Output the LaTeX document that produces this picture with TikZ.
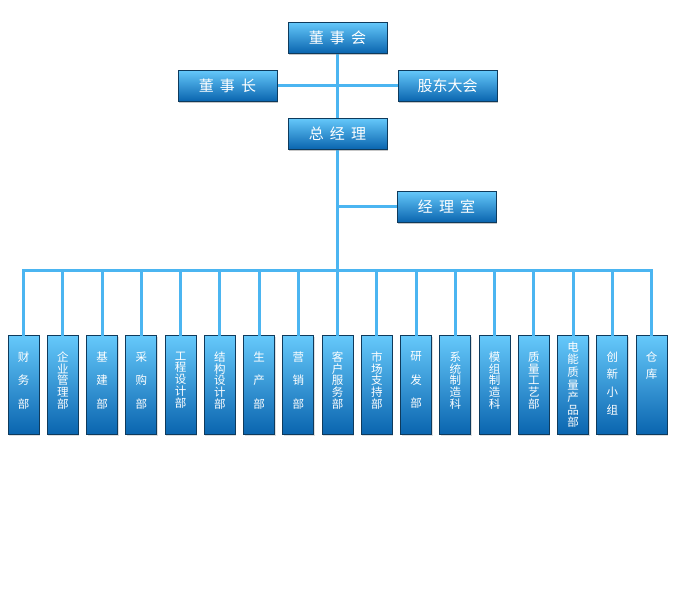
\documentclass[tikz,border=0pt]{standalone}
\usepackage{fontspec}
\newfontfamily\cjk{Noto Sans CJK SC}
\newfontfamily\cjkwide[WordSpace=1.8]{Noto Sans CJK SC}
\usetikzlibrary{shadows}

\definecolor{boxtop}{HTML}{66C9FB}
\definecolor{boxmid}{HTML}{3AA2E4}
\definecolor{boxbot}{HTML}{0A65AF}
\definecolor{boxline}{HTML}{0E3A5C}
\definecolor{linkblue}{HTML}{4BB5F1}

\begin{document}
\begin{tikzpicture}[
    x=1pt, y=-1pt, % 以像素为单位, y向下
    box/.style={draw=boxline, line width=1pt, top color=boxtop, middle color=boxmid, bottom color=boxbot,
        text=white, drop shadow={shadow xshift=1pt, shadow yshift=-1.5pt, opacity=0.25}}, % 渐变蓝框
    topbox/.style={box, minimum width=99pt, minimum height=31pt,
        font=\cjkwide\fontsize{15}{15}\selectfont}, % 上层职位框
    dept/.style={box, minimum width=31pt, minimum height=99pt}, % 部门竖框
    deptlabel/.style={anchor=north, inner sep=0pt, text=white, align=center}, % 部门竖排文字
    link/.style={linkblue, line width=3pt, line cap=rect} % 连线
]
    \useasboundingbox (0,0) rectangle (678,600);

    % 1. 上层职位
    \node[topbox] (board) at (337.5, 37.5) {董 事 会};
    \node[topbox] (chair) at (227.5, 85.5) {董 事 长};
    \node[topbox] (share) at (447.5, 85.5) {股东大会};
    \node[topbox] (gm) at (337.5, 133.5) {总 经 理};
    \node[topbox] (office) at (446.5, 206.5) {经 理 室};

    % 2. 总线
    \coordinate (busL) at (23.5, 270);
    \coordinate (busR) at (651.5, 270);

    % 3. 部门(竖排文字: 编号/文字/行距/距顶)
    \foreach \i/\txt/\bs/\off in {
        1/{财\\务\\部}/23.5/17,
        2/{企\\业\\管\\理\\部}/11.75/17,
        3/{基\\建\\部}/23.5/17,
        4/{采\\购\\部}/23.5/17,
        5/{工\\程\\设\\计\\部}/11.75/17,
        6/{结\\构\\设\\计\\部}/11.75/17,
        7/{生\\产\\部}/23.5/17,
        8/{营\\销\\部}/23.5/17,
        9/{客\\户\\服\\务\\部}/11.75/17,
        10/{市\\场\\支\\持\\部}/11.75/17,
        11/{研\\发\\部}/23.5/17,
        12/{系\\统\\制\\造\\科}/11.75/17,
        13/{模\\组\\制\\造\\科}/11.75/17,
        14/{质\\量\\工\\艺\\部}/11.75/17,
        15/{电\\能\\质\\量\\产\\品\\部}/12.6/7,
        16/{创\\新\\小\\组}/17.6/17,
        17/{仓\\库}/17.5/17} {
        \node[dept] (d\i) at ({23.5+39.25*(\i-1)}, 384.5) {};
        \node[deptlabel, font=\cjk\fontsize{11.5}{\bs}\selectfont] (t\i)
            at ([yshift=-\off pt]d\i.north) {\txt};
    }

    % 4. 连线
    \draw[link] (board) -- (gm);
    \draw[link] (chair) -- (share);
    \draw[link] (gm) -- (gm |- busL);
    \draw[link] (office) -- (office -| gm);
    \draw[link] (busL) -- (busR);
    \foreach \i in {1,...,17} {
        \draw[link] (d\i.north) -- (d\i |- busL);
    }

    % 5. 重画上层框(盖住连线)
    \node[topbox] at (board) {董 事 会};
    \node[topbox] at (chair) {董 事 长};
    \node[topbox] at (share) {股东大会};
    \node[topbox] at (gm) {总 经 理};
    \node[topbox] at (office) {经 理 室};

\end{tikzpicture}
\end{document}
